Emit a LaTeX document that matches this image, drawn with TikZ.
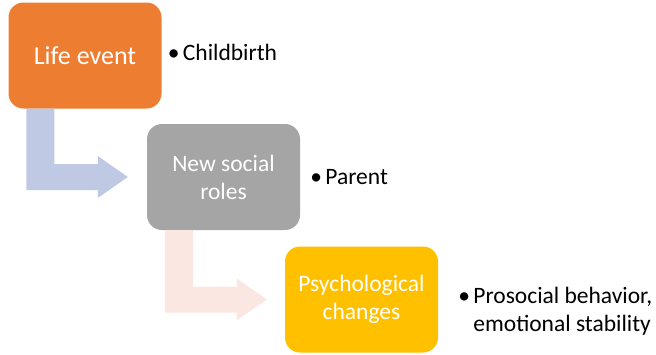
\documentclass[tikz,border=0pt]{standalone}
\usepackage{fontspec}
\setmainfont{Carlito}
\usetikzlibrary{positioning, calc}

\definecolor{lifeorange}{HTML}{ED7D31}
\definecolor{rolegray}{HTML}{A5A5A5}
\definecolor{psyyellow}{HTML}{FFC000}
\definecolor{arrowblue}{HTML}{BFC9E4}
\definecolor{arrowpink}{HTML}{FBE7E1}

\newcommand{\bulletmark}{\makebox[15pt][l]{\textbullet}}

\begin{document}
\begin{tikzpicture}[x=1pt, y=-1pt,
    stage/.style={rounded corners=15pt, minimum width=153pt, minimum height=106pt, inner sep=0pt,
        text=white, align=center, font=\fontsize{23.5}{28}\selectfont},
    note/.style={anchor=west, inner sep=0pt, font=\fontsize{23.5}{28}\selectfont}]
    \useasboundingbox (0,0) rectangle (656,354);

    % Stages of the chain
    \node[stage, fill=lifeorange, font=\fontsize{26}{30}\selectfont] (life) at (85,55.5) {Life event};
    \node[stage, fill=rolegray] (roles) at (223.5,177) {New social\\roles};
    \node[stage, fill=psyyellow] (psych) at (361.5,299.5) {Psychological\\changes};

    % Bullet texts beside each stage
    \node[note, right=6pt of life, yshift=3pt] (birth) {\bulletmark Childbirth};
    \node[note, right=10pt of roles] (parent) {\bulletmark Parent};
    \node[note, right=20pt of psych, yshift=-12pt] (effects) {\begin{tabular}{@{}l@{}l@{}}
        \bulletmark & Prosocial behavior,\\
                    & emotional stability
        \end{tabular}};

    % Bent arrows between stages
    \coordinate (tipA) at ($(roles.west)+(-19,0)$);
    \fill[arrowblue] ($(life.south west)+(18,0)$) coordinate (startA) -- ++(28,0)
        |- ($(tipA)+(-30,-13)$) -- ++(0,-8) -- (tipA) -- ($(tipA)+(-30,21)$) -- ++(0,-8)
        -| (startA) -- cycle;
    \coordinate (tipB) at ($(psych.west)+(-18,0)$);
    \fill[arrowpink] ($(roles.south west)+(18,0)$) coordinate (startB) -- ++(28,0)
        |- ($(tipB)+(-30,-13)$) -- ++(0,-8) -- (tipB) -- ($(tipB)+(-30,21)$) -- ++(0,-8)
        -| (startB) -- cycle;
\end{tikzpicture}
\end{document}
